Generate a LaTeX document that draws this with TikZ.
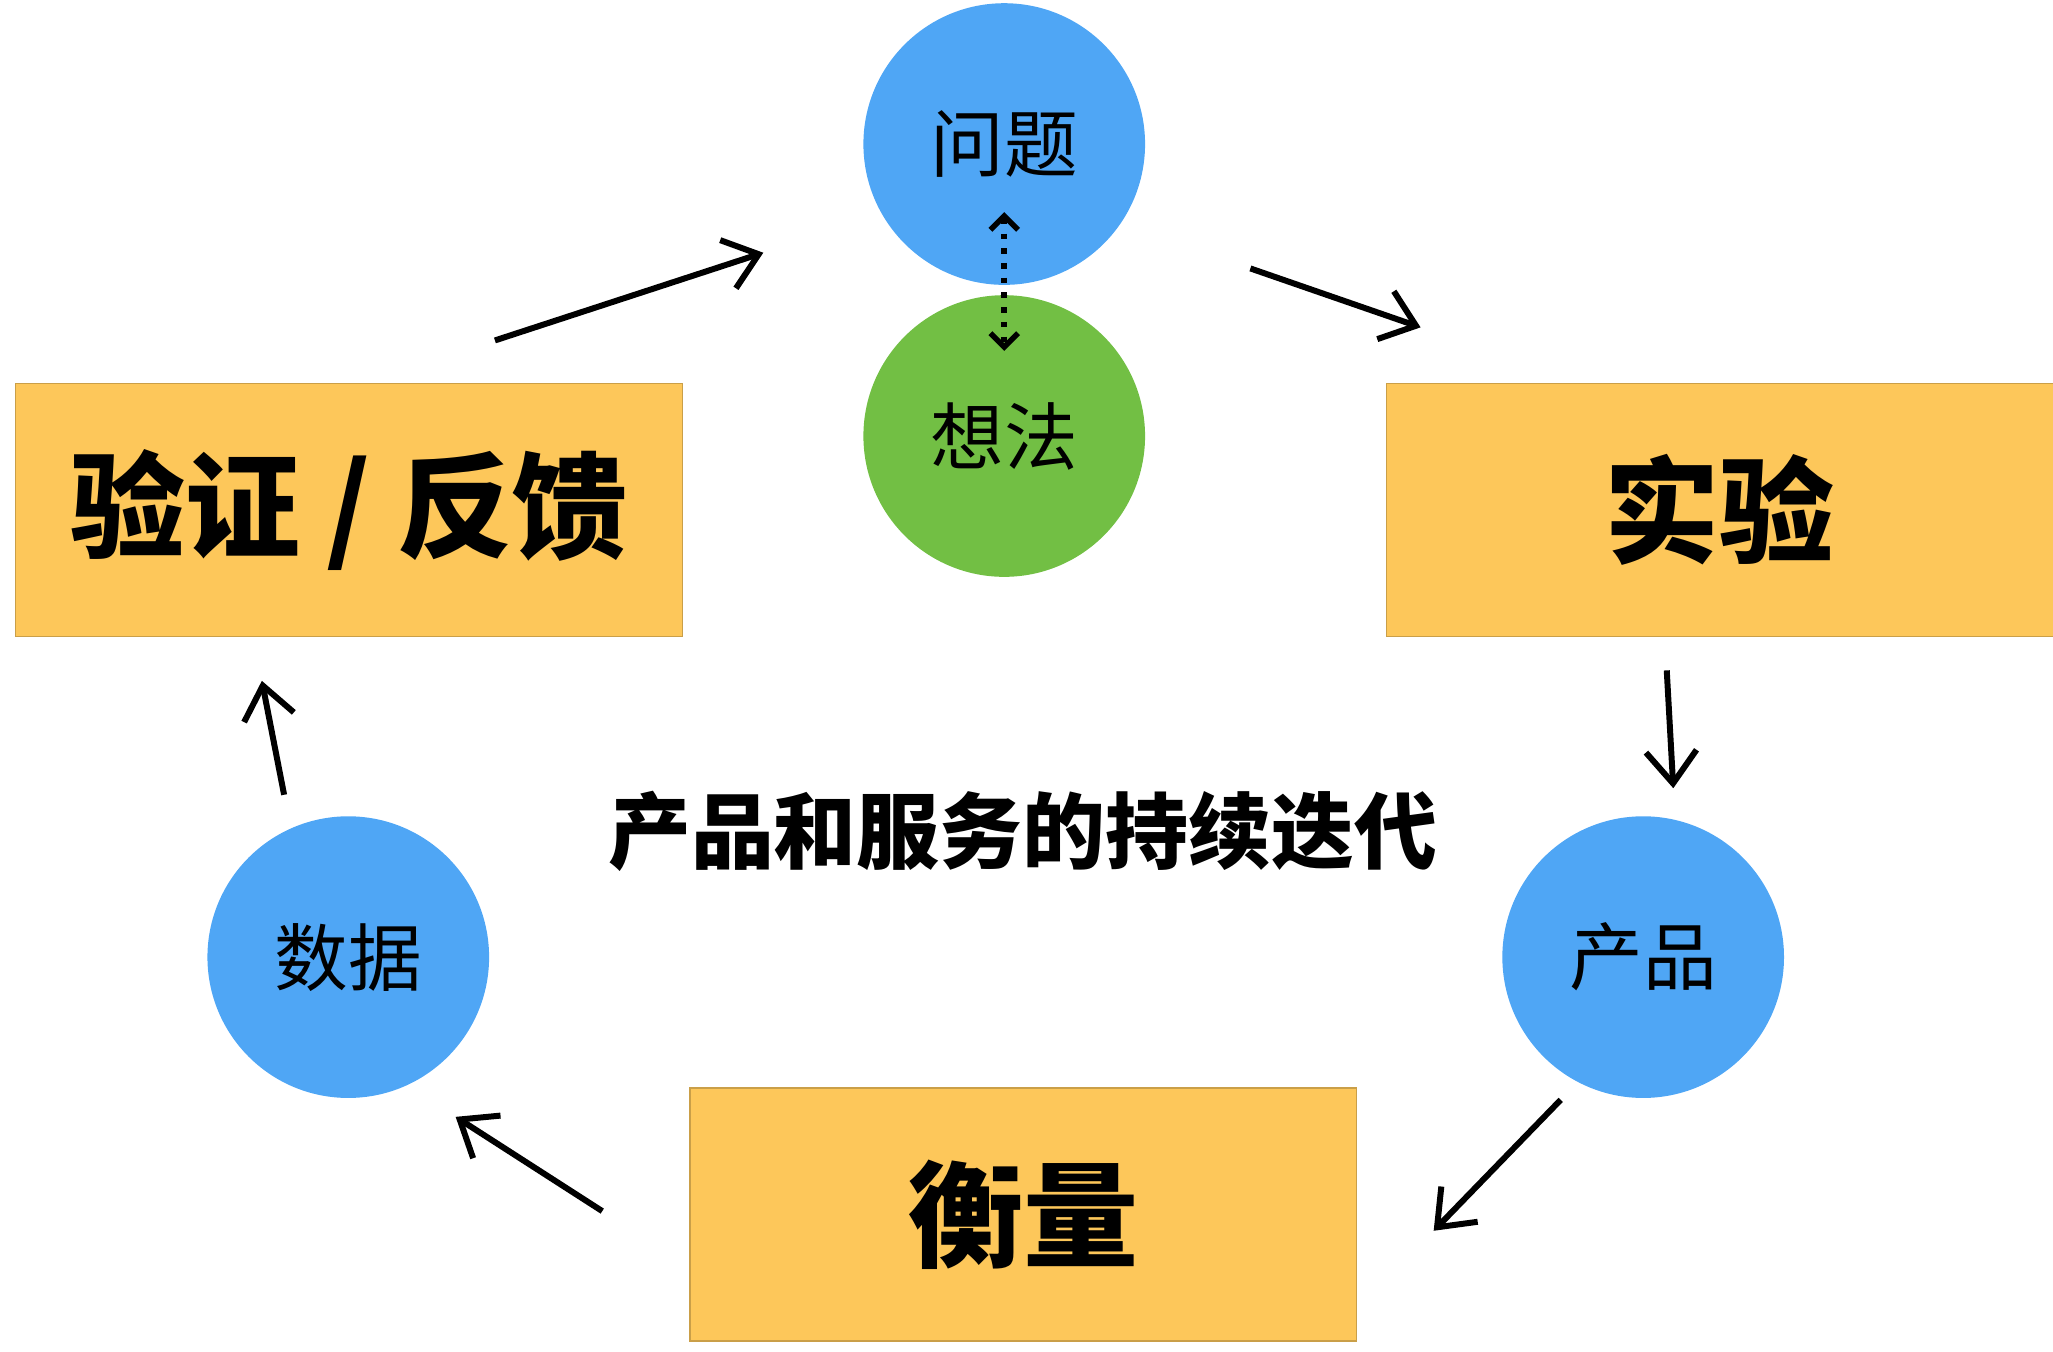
\documentclass[tikz,border=0pt]{standalone}
\usepackage{fontspec}
\newfontfamily\cjk{Noto Sans CJK SC}
\usetikzlibrary{arrows.meta}
\definecolor{cblue}{HTML}{4FA6F5}
\definecolor{cgreen}{HTML}{72BF44}
\definecolor{corange}{HTML}{FDC75A}
\begin{document}
\begin{tikzpicture}[x=0.01cm,y=-0.01cm,
  circ/.style={circle,minimum size=2.15cm,inner sep=0pt,font=\cjk\fontsize{16}{18}\selectfont},
  box/.style={fill=corange,draw=corange!80!black,line width=0.3pt,minimum width=5.09cm,minimum height=1.93cm,inner sep=0pt,font=\cjk\bfseries\fontsize{25}{28}\selectfont},
  harrow/.style={line width=1.3pt,-{Straight Barb[length=7pt,width=11pt,line width=1.3pt]}}]
\useasboundingbox (0,0) rectangle (1568,1032);
\node[circ,fill=cblue] (wt) at (767,110) {问题};
\node[circ,fill=cgreen] (xf) at (767,333) {想法};
\coordinate (d1) at (767,162);
\coordinate (d2) at (767,268);
\draw[line width=1.2pt,dotted,{Straight Barb[length=3pt,width=6pt]}-{Straight Barb[length=3pt,width=6pt]}] (d1) -- (d2);
\node[box] (yz) at (266.5,389.5) {验证 / 反馈};
\node[box] (sy) at (1313.5,389.5) {实验};
\node[box] (hl) at (781.5,927.5) {衡量};
\node[circ,fill=cblue] (sj) at (266,731) {数据};
\node[circ,fill=cblue] (cp) at (1255,731) {产品};
\node[font=\cjk\bfseries\fontsize{18}{20}\selectfont] (title) at (781,635) {产品和服务的持续迭代};
\coordinate (a1s) at (378,260); \coordinate (a1e) at (583,193);
\coordinate (a2s) at (955,205); \coordinate (a2e) at (1085,250);
\coordinate (a3s) at (1273,512); \coordinate (a3e) at (1278,602);
\coordinate (a4s) at (1192,840); \coordinate (a4e) at (1095,940);
\coordinate (a5s) at (460,925); \coordinate (a5e) at (348,853);
\coordinate (a6s) at (217,607); \coordinate (a6e) at (200,520);
\foreach \s/\e in {a1s/a1e,a2s/a2e,a3s/a3e,a4s/a4e,a5s/a5e,a6s/a6e}
  \draw[harrow] (\s) -- (\e);
\end{tikzpicture}
\end{document}
